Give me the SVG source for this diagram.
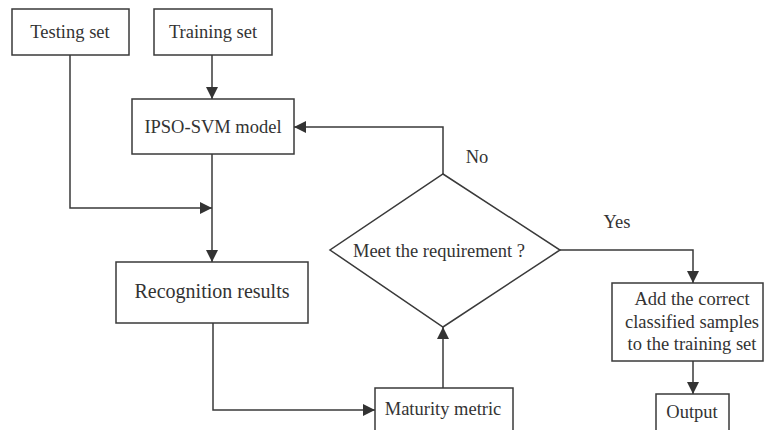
<svg xmlns="http://www.w3.org/2000/svg" width="764" height="430" viewBox="0 0 764 430">
<style>
.box{fill:#fff;stroke:#3a3a3a;stroke-width:1.5}
.ln{fill:none;stroke:#3a3a3a;stroke-width:1.5}
text{font-family:"Liberation Serif","Times New Roman",serif;fill:#333;text-anchor:middle}
.t{font-size:18.5px}
.big{font-size:20px}
</style>
<defs>
<marker id="ah" viewBox="0 0 10 10" refX="10" refY="5" markerWidth="12" markerHeight="12" markerUnits="userSpaceOnUse" orient="auto">
<path d="M0,0 L10,5 L0,10 Z" fill="#333"/>
</marker>
</defs>
<rect width="764" height="430" fill="#fff"/>
<g id="connectors">
<path class="ln" d="M212,55 V99" marker-end="url(#ah)"/>
<path class="ln" d="M70,55 V208 H212" marker-end="url(#ah)"/>
<path class="ln" d="M212,154 V262" marker-end="url(#ah)"/>
<path class="ln" d="M213,323 V410 H375" marker-end="url(#ah)"/>
<path class="ln" d="M443,388 V327" marker-end="url(#ah)"/>
<path class="ln" d="M443,174 V127 H294" marker-end="url(#ah)"/>
<path class="ln" d="M560,250 H693 V283" marker-end="url(#ah)"/>
<path class="ln" d="M693,361 V394" marker-end="url(#ah)"/>
<text class="t" x="477" y="163">No</text>
<text class="t" x="617" y="228">Yes</text>
</g>
<g id="testing-set">
<rect class="box" x="12" y="9" width="117" height="46"/>
<text class="t" x="70" y="38">Testing set</text>
</g>
<g id="training-set">
<rect class="box" x="154" y="9" width="118" height="46"/>
<text class="t" x="213" y="38">Training set</text>
</g>
<g id="ipso-svm">
<rect class="box" x="132" y="99" width="162" height="55"/>
<text class="t" x="213" y="133">IPSO-SVM model</text>
</g>
<g id="recognition">
<rect class="box" x="116" y="262" width="192" height="61"/>
<text class="big" x="212" y="298">Recognition results</text>
</g>
<g id="decision">
<path class="box" d="M443,174 L560,250 L443,327 L330,250 Z"/>
<text class="t" x="439" y="257">Meet the requirement ?</text>
</g>
<g id="maturity">
<rect class="box" x="375" y="388" width="138" height="50"/>
<text class="t" x="443" y="415">Maturity metric</text>
</g>
<g id="add-samples">
<rect class="box" x="612" y="283" width="151" height="78"/>
<text class="t" x="692" y="305">Add the correct</text>
<text class="t" x="692" y="328">classified samples</text>
<text class="t" x="692" y="350">to the training set</text>
</g>
<g id="output">
<rect class="box" x="656" y="394" width="73" height="44"/>
<text class="t" x="692" y="418">Output</text>
</g>
</svg>
